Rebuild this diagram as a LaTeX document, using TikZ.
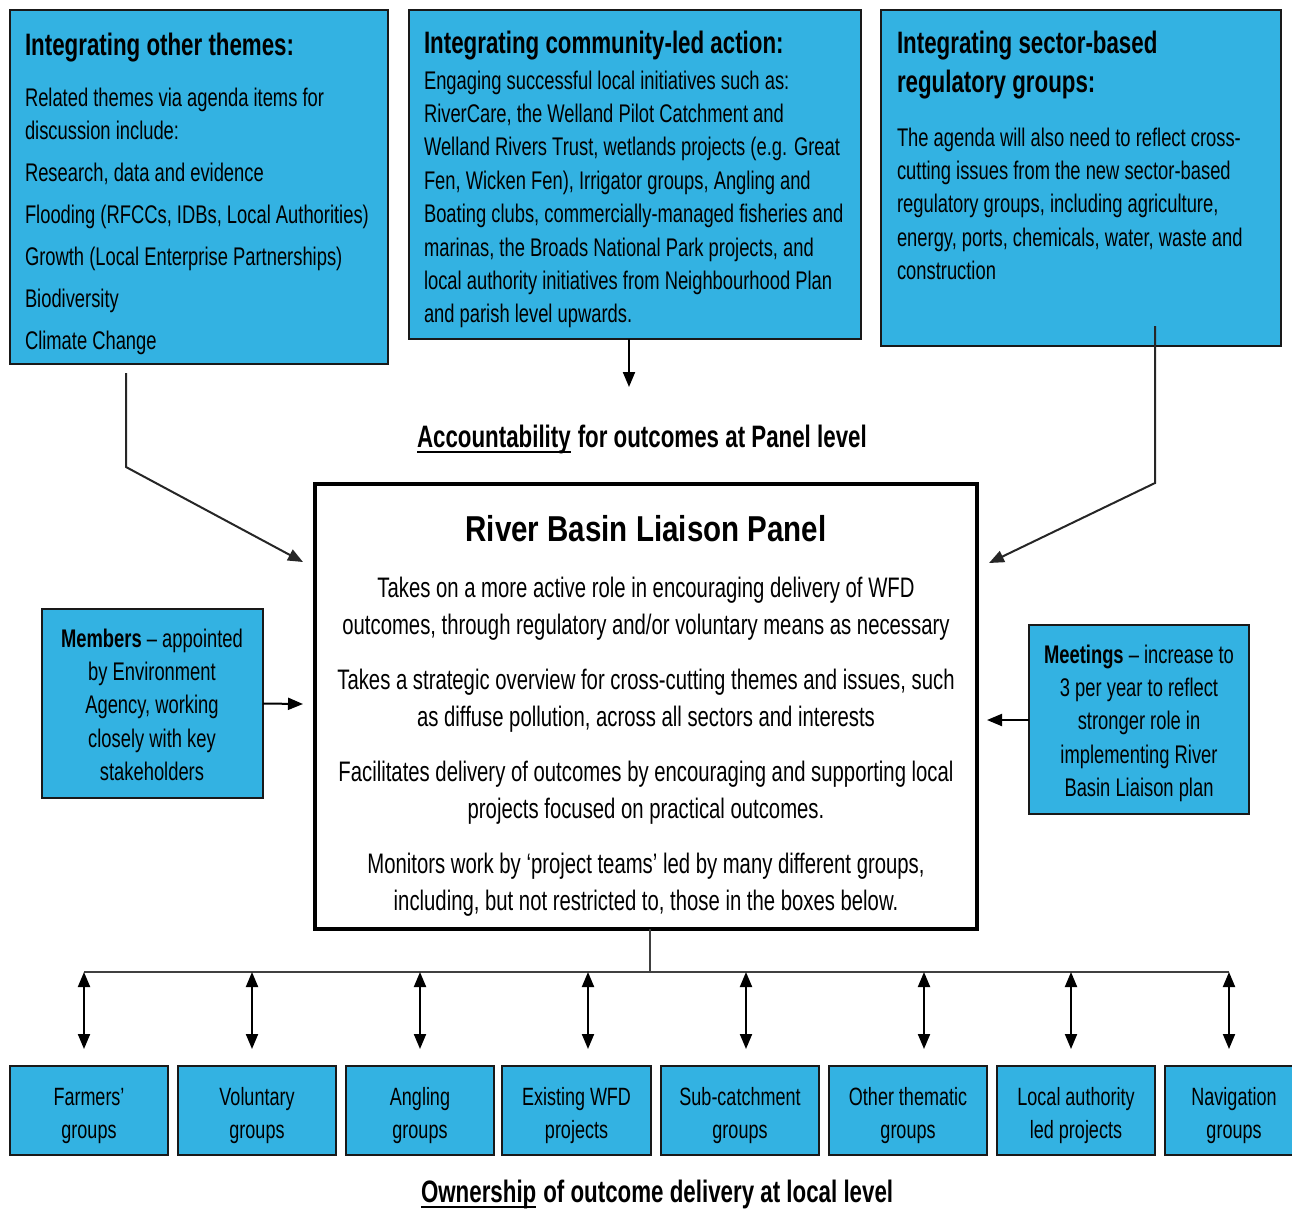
\documentclass[tikz,border=0pt]{standalone}
\usepackage{fontspec}
\setmainfont{Liberation Sans}[FakeStretch=0.72]
\newfontfamily\ttlfont{Liberation Sans}[FakeStretch=0.82]
\usetikzlibrary{arrows.meta,calc}
\definecolor{boxblue}{RGB}{51,178,226}
\definecolor{edgecol}{RGB}{25,25,25}
\newcommand\fst{\rule{0pt}{0.9em}}
\tikzset{
  box/.style={draw=edgecol, line width=1.5pt, fill=boxblue, anchor=north west, inner sep=0pt, outer sep=0pt},
  txt/.style={inner sep=0pt, outer sep=0pt, anchor=north west, align=left, text=black},
  ctxt/.style={inner sep=0pt, outer sep=0pt, anchor=north, align=center, text=black},
  lbl/.style={inner sep=0pt, outer sep=0pt, anchor=base west, text=black, font=\bfseries\fontsize{31}{36}\selectfont},
  body/.style={font=\fontsize{25.5}{33.4}\selectfont},
  head/.style={font=\bfseries\fontsize{31}{39}\selectfont},
  conn/.style={draw=black!85, line width=2pt},
  tipend/.style={-{Triangle[length=15pt,width=12pt]}},
  tipboth/.style={{Triangle[length=15pt,width=12pt]}-{Triangle[length=15pt,width=12pt]}},
}
\begin{document}
\begin{tikzpicture}[x=1pt,y=-1pt]
\useasboundingbox (0,0) rectangle (1292,1208);

% ---- top boxes
\node[box, minimum width=378pt, minimum height=354pt] (t1) at (10,10) {};
\node[box, minimum width=452pt, minimum height=329pt] (t2) at (409,10) {};
\node[box, minimum width=400pt, minimum height=336pt] (t3) at (881,10) {};

\node[txt, head] (t1h) at (25,27.1) {\fst Integrating other themes:};
\node[txt, body] (t1b) at (25,83.1) {\fst Related themes via agenda items for\\
discussion include:\\[8.6pt]
Research, data and evidence\\[8.6pt]
Flooding (RFCCs, IDBs, Local Authorities)\\[8.6pt]
Growth (Local Enterprise Partnerships)\\[8.6pt]
Biodiversity\\[8.6pt]
Climate Change};

\node[txt, head] (t2h) at (424,25.1) {\fst Integrating community-led action:};
\node[txt, body] (t2b) at (424,66.1) {\fst Engaging successful local initiatives such as:\\
RiverCare, the Welland Pilot Catchment and\\
Welland Rivers Trust, wetlands projects (e.g. Great\\
Fen, Wicken Fen), Irrigator groups, Angling and\\
Boating clubs, commercially-managed fisheries and\\
marinas, the Broads National Park projects, and\\
local authority initiatives from Neighbourhood Plan\\
and parish level upwards.};

\node[txt, head] (t3h) at (897,25.1) {\fst Integrating sector-based\\ regulatory groups:};
\node[txt, body] (t3b) at (897,123.1) {\fst The agenda will also need to reflect cross-\\
cutting issues from the new sector-based\\
regulatory groups, including agriculture,\\
energy, ports, chemicals, water, waste and\\
construction};

% ---- accountability label
\node[lbl] (acc1) at (417,447) {Accountability};
\node[lbl, anchor=base west] (acc2) at ([xshift=7pt]acc1.base east) {for outcomes at Panel level};
\draw[line width=2pt] ([yshift=-5pt]acc1.base west) -- ([yshift=-5pt]acc1.base east);

% ---- panel
\node[box, fill=white, draw=black, line width=4pt, minimum width=662pt, minimum height=445pt] (panel) at (315,484) {};
\node[ctxt, font=\ttlfont\bfseries\fontsize{36}{40}\selectfont] (ptitle) at (646,508.6) {\fst River Basin Liaison Panel};
\node[ctxt, font=\fontsize{28.2}{37}\selectfont] (pbody) at (646,572.6) {\fst Takes on a more active role in encouraging delivery of WFD\\
outcomes, through regulatory and/or voluntary means as necessary\\[18pt]
Takes a strategic overview for cross-cutting themes and issues, such\\
as diffuse pollution, across all sectors and interests\\[18pt]
Facilitates delivery of outcomes by encouraging and supporting local\\
projects focused on practical outcomes.\\[18pt]
Monitors work by ‘project teams’ led by many different groups,\\
including, but not restricted to, those in the boxes below.};

% ---- side boxes
\node[box, minimum width=221pt, minimum height=189pt] (mem) at (42,609) {};
\node[ctxt, body] (memt) at (152,624.1) {\fst\textbf{Members} – appointed\\ by Environment\\ Agency, working\\ closely with key\\ stakeholders};
\node[box, minimum width=220pt, minimum height=189pt] (meet) at (1029,625) {};
\node[ctxt, body] (meett) at (1139,640.1) {\fst\textbf{Meetings} – increase to\\ 3 per year to reflect\\ stronger role in\\ implementing River\\ Basin Liaison plan};

% ---- connectors to panel
\coordinate (t1out) at (126,373);
\coordinate (t1bend) at (126,467);
\coordinate (pin1) at (303,562);
\draw[conn, tipend] (t1out) -- (t1bend) -- (pin1);
\coordinate (t3out) at (1155,326);
\coordinate (t3bend) at (1155,483);
\coordinate (pin3) at (989,563);
\draw[conn, tipend] (t3out) -- (t3bend) -- (pin3);
\coordinate (t2out) at (629,339);
\coordinate (t2in) at (629,387);
\draw[conn, draw=black, tipend] (t2out) -- (t2in);
\coordinate (pinm) at (303,704);
\draw[conn, draw=black, tipend] (mem.east) -- (pinm);
\coordinate (pinr) at (987,720);
\draw[conn, draw=black, tipend] (meet.west |- pinr) -- (pinr);

% ---- bus
\coordinate (pout) at (650,929);
\coordinate (busmid) at (650,972);
\coordinate (busL) at (84,972);
\coordinate (busR) at (1229,972);
\draw[conn, draw=black!75] (pout) -- (busmid);
\draw[conn, draw=black!75] (busL) -- (busR);

% ---- bottom boxes
\foreach \n/\xa/\w/\tx in {
  1/10/158/{Farmers’\\groups},
  2/178/158/{Voluntary\\groups},
  3/346/148/{Angling\\groups},
  4/502/149/{Existing WFD\\projects},
  5/661/158/{Sub-catchment\\groups},
  6/829/158/{Other thematic\\groups},
  7/997/158/{Local authority\\led projects},
  8/1165/138/{Navigation\\groups}}{
  \node[box, minimum width=\w pt, minimum height=89pt] (b\n) at (\xa,1066) {};
  \node[ctxt, font=\fontsize{25}{33}\selectfont] (bt\n) at ($(\xa,1082.5)+(\w/2,0)$) {\fst\tx};
}

\foreach \n/\x in {1/84,2/252,3/420,4/588,5/746,6/924,7/1071,8/1229}{
  \coordinate (bus\n) at (\x,972);
  \coordinate (arr\n) at (\x,1049);
  \draw[conn, draw=black, tipboth] (bus\n) -- (arr\n);
}

% ---- ownership label
\node[lbl] (own1) at (421,1202) {Ownership};
\node[lbl, anchor=base west] (own2) at ([xshift=7pt]own1.base east) {of outcome delivery at local level};
\draw[line width=2pt] ([yshift=-5pt]own1.base west) -- ([yshift=-5pt]own1.base east);
\end{tikzpicture}
\end{document}
